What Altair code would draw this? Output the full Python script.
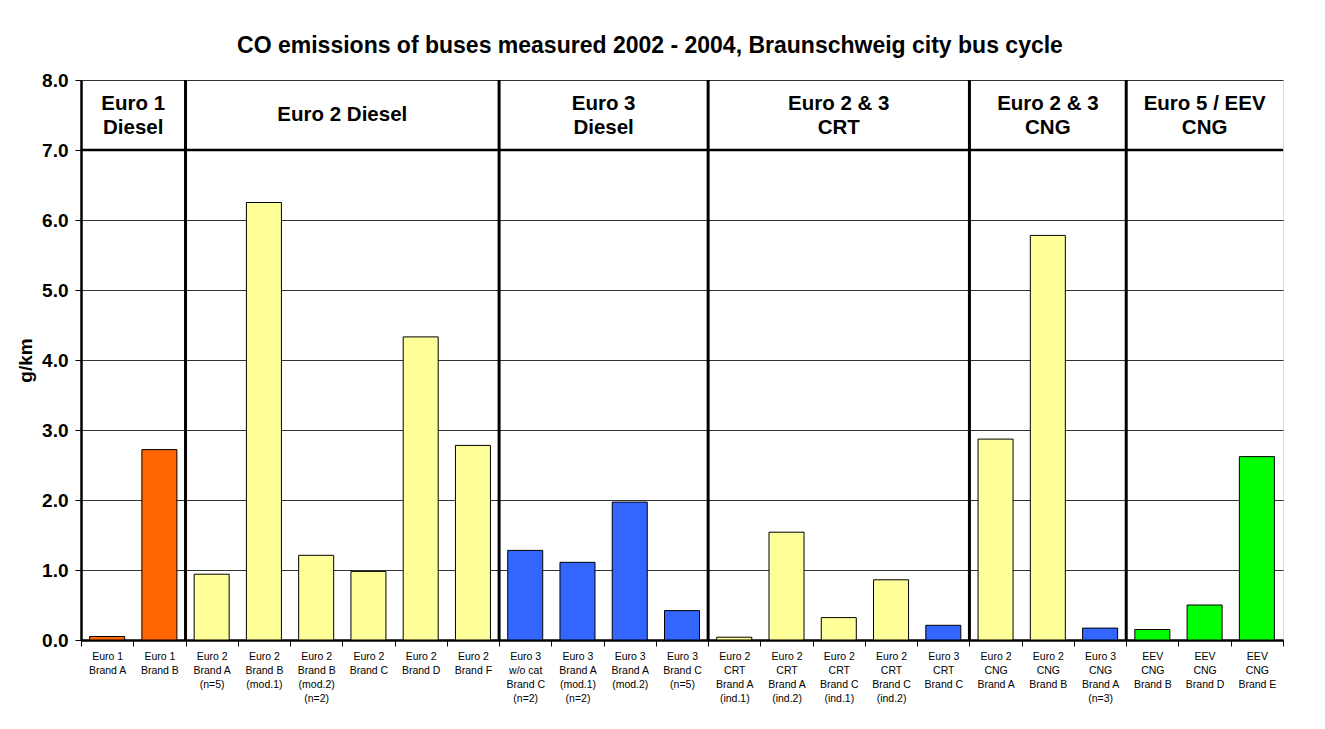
import altair as alt
import pandas as pd

categories = [
    "Euro 1|Brand A", "Euro 1|Brand B",
    "Euro 2|Brand A|(n=5)", "Euro 2|Brand B|(mod.1)", "Euro 2|Brand B|(mod.2)|(n=2)",
    "Euro 2|Brand C", "Euro 2|Brand D", "Euro 2|Brand F",
    "Euro 3|w/o cat|Brand C|(n=2)", "Euro 3|Brand A|(mod.1)|(n=2)", "Euro 3|Brand A|(mod.2)",
    "Euro 3|Brand C|(n=5)",
    "Euro 2|CRT|Brand A|(ind.1)", "Euro 2|CRT|Brand A|(ind.2)", "Euro 2|CRT|Brand C|(ind.1)",
    "Euro 2|CRT|Brand C|(ind.2)", "Euro 3|CRT|Brand C",
    "Euro 2|CNG|Brand A", "Euro 2|CNG|Brand B", "Euro 3|CNG|Brand A|(n=3)",
    "EEV|CNG|Brand B", "EEV|CNG|Brand D", "EEV|CNG|Brand E",
]
values = [0.05, 2.72,
          0.94, 6.25, 1.21, 0.98, 4.33, 2.78,
          1.28, 1.11, 1.97, 0.42,
          0.04, 1.54, 0.32, 0.86, 0.21,
          2.87, 5.78, 0.17,
          0.15, 0.50, 2.62]
classes = ["Euro 1", "Euro 1",
           "Euro 2", "Euro 2", "Euro 2", "Euro 2", "Euro 2", "Euro 2",
           "Euro 3", "Euro 3", "Euro 3", "Euro 3",
           "Euro 2", "Euro 2", "Euro 2", "Euro 2", "Euro 3",
           "Euro 2", "Euro 2", "Euro 3",
           "EEV", "EEV", "EEV"]
class_names = ["Euro 1", "Euro 2", "Euro 3", "EEV"]
class_colors = ["#FF6600", "#FFFF99", "#3366FF", "#00FF00"]

# group headers: label and the category at whose band the group centre lies
hdr_single_labels = ["Euro 2 Diesel"]
hdr_single_anchor = [categories[5]]            # centre at band start
hdr_edge_labels = ["Euro 1|Diesel", "Euro 3|Diesel"]
hdr_edge_anchor = [categories[1], categories[10]]   # centre at band start
hdr_mid_labels = ["Euro 2 & 3|CRT", "Euro 2 & 3|CNG", "Euro 5 / EEV|CNG"]
hdr_mid_anchor = [categories[14], categories[18], categories[21]]  # centre at band middle
separator_cats = [categories[2], categories[8], categories[12], categories[17], categories[20]]

title_text = "CO emissions of buses measured 2002 - 2004, Braunschweig city bus cycle"
y_ticks = [0, 1, 2, 3, 4, 5, 6, 7, 8]

W = 1202
H = 560
FONT = "Liberation Sans"

df = pd.DataFrame({"cat": categories, "value": values, "cls": classes})

xscale = alt.Scale(domain=categories, paddingInner=0, paddingOuter=0)
yscale = alt.Scale(domain=[0, 8], nice=False)

bars = alt.Chart(df).mark_bar(
    width=alt.RelativeBandSize(0.67), stroke="black", strokeWidth=1
).encode(
    x=alt.X("cat:N", scale=xscale, sort=categories,
            axis=alt.Axis(title=None, labelExpr="split(datum.label, '|')",
                          labelAngle=0, tickBand="extent",
                          labelFontSize=10.5, labelFont=FONT, labelColor="#000",
                          labelLineHeight=14, labelPadding=5, labelBaseline="top",
                          labelOverlap=False, tickSize=6, tickColor="black",
                          tickWidth=1, domainColor="black", domainWidth=2.5,
                          grid=False)),
    y=alt.Y("value:Q", scale=yscale,
            axis=alt.Axis(title="g/km", values=y_ticks, format=".1f",
                          labelFontSize=19, labelFontWeight="bold", labelFont=FONT,
                          labelColor="black", labelPadding=7, tickSize=6,
                          tickColor="black", domainColor="black", domainWidth=2.5,
                          grid=True, gridColor="#333333", gridWidth=1,
                          titleFontSize=19, titleFontWeight="bold", titleFont=FONT,
                          titleColor="black", titlePadding=6)),
    color=alt.Color("cls:N", scale=alt.Scale(domain=class_names, range=class_colors),
                    legend=None),
)

sep_df = pd.DataFrame({"cat": separator_cats, "lo": [0] * len(separator_cats),
                       "hi": [8] * len(separator_cats)})
seps = alt.Chart(sep_df).mark_rule(color="black", strokeWidth=3).encode(
    x=alt.X("cat:N", scale=xscale, sort=categories, bandPosition=0),
    y=alt.Y("lo:Q", scale=yscale),
    y2="hi:Q",
)

hline_df = pd.DataFrame({"yv": [7]})
hline = alt.Chart(hline_df).mark_rule(color="black", strokeWidth=2.5).encode(
    y=alt.Y("yv:Q", scale=yscale)
)


def header(labels, anchors, band_pos, dy):
    d = pd.DataFrame({"cat": anchors, "label": labels, "yv": [7.5] * len(labels)})
    return alt.Chart(d).mark_text(
        fontSize=20.5, fontWeight="bold", font=FONT, lineBreak="|",
        lineHeight=24, align="center", baseline="middle", color="black", dy=dy
    ).encode(
        x=alt.X("cat:N", scale=xscale, sort=categories, bandPosition=band_pos),
        y=alt.Y("yv:Q", scale=yscale),
        text="label:N",
    )


hdr_a = header(hdr_single_labels, hdr_single_anchor, 0, 0)
hdr_b = header(hdr_edge_labels, hdr_edge_anchor, 0, -11)
hdr_c = header(hdr_mid_labels, hdr_mid_anchor, 0.5, -11)

chart = alt.layer(bars, seps, hline, hdr_a, hdr_b, hdr_c).properties(
    width=W, height=H,
    title=alt.Title(title_text, fontSize=23, fontWeight="bold", font=FONT,
                    color="black", anchor="middle", frame="group", offset=13, dx=-32),
    autosize=alt.AutoSizeParams(type="none"),
    padding={"left": 73, "top": 72, "right": 30, "bottom": 80},
).configure_view(
    stroke="black", strokeWidth=2.5
).configure(background="white")

chart.save("out.html", embed_options={"renderer": "svg", "actions": False})
